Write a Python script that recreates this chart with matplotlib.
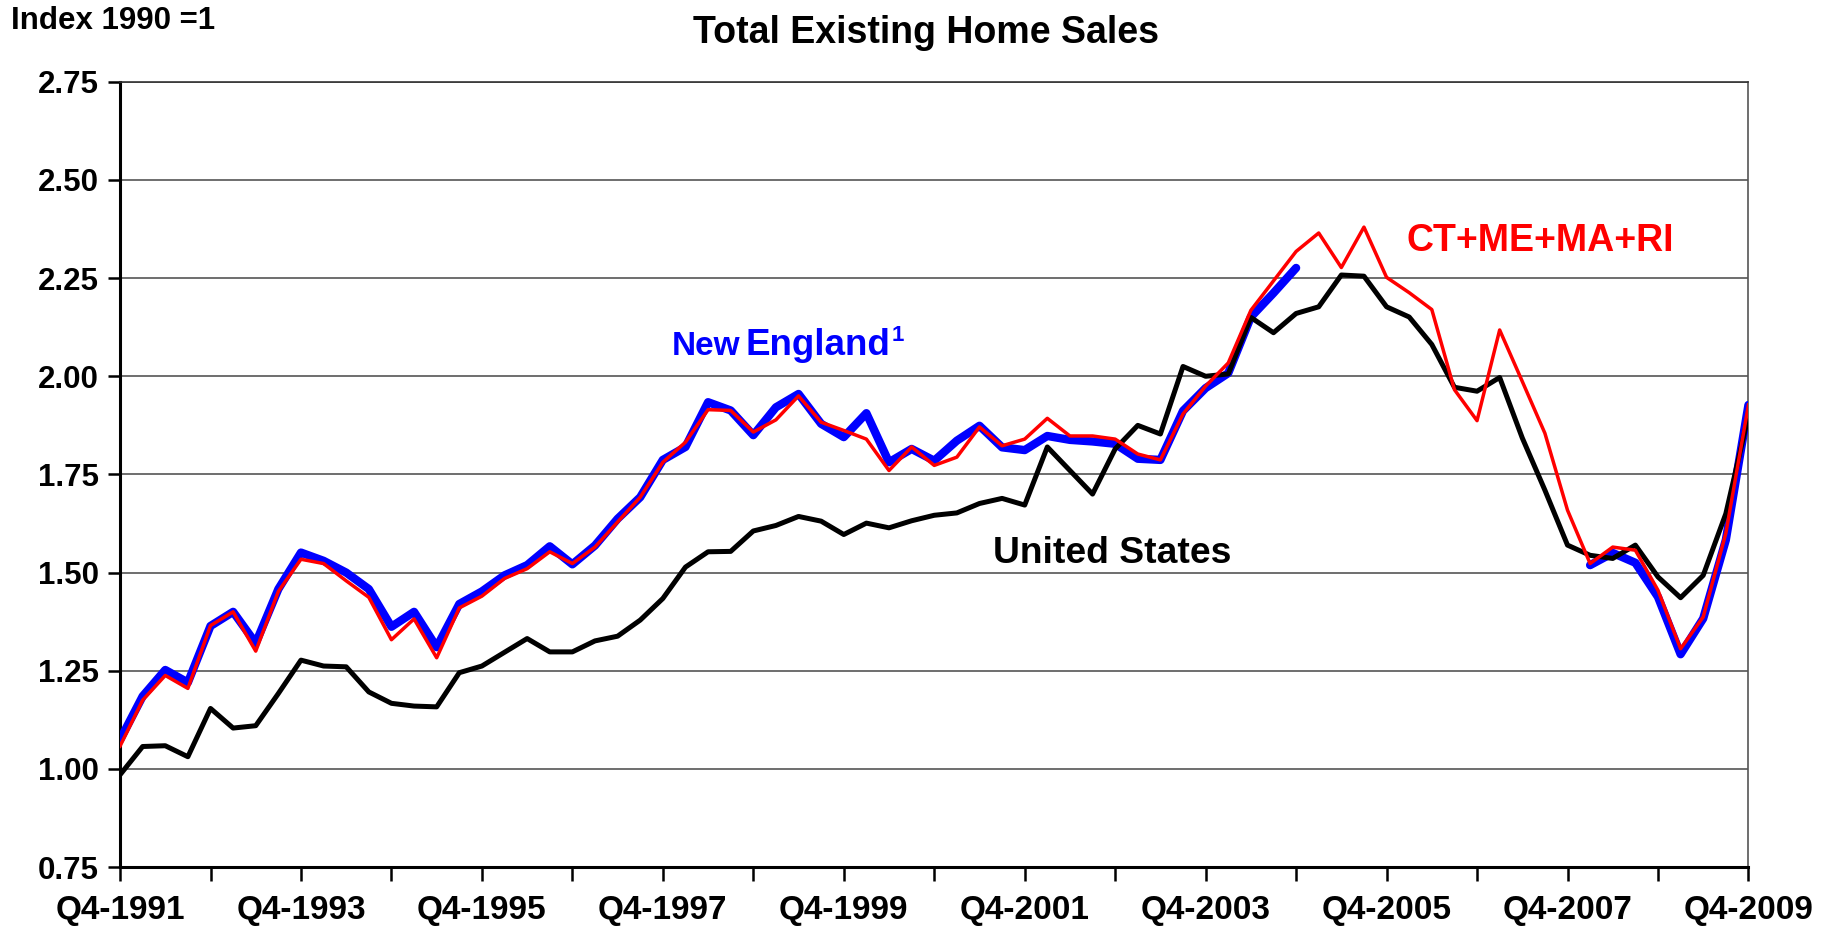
import numpy as np
import matplotlib.pyplot as plt

plt.rcParams['font.family'] = ['Liberation Sans', 'DejaVu Sans']
plt.rcParams['font.weight'] = 'bold'

# quarterly index values, Q4-1991 .. Q4-2009 (1990 = 1)
united_states = [
    0.985, 1.057, 1.059, 1.031, 1.154, 1.104, 1.110, 1.192, 1.277, 1.262,
    1.260, 1.196, 1.167, 1.160, 1.158, 1.245, 1.262, 1.297, 1.332, 1.298,
    1.298, 1.326, 1.338, 1.379, 1.434, 1.514, 1.553, 1.554, 1.606, 1.620,
    1.643, 1.631, 1.597, 1.626, 1.614, 1.632, 1.646, 1.652, 1.676, 1.689,
    1.672, 1.820, 1.760, 1.700, 1.815, 1.875, 1.853, 2.025, 2.000, 2.006,
    2.150, 2.111, 2.160, 2.177, 2.258, 2.255, 2.177, 2.151, 2.081, 1.972,
    1.962, 1.997, 1.843, 1.710, 1.570, 1.544, 1.536, 1.570, 1.489, 1.436,
    1.493, 1.650, 1.900,
]
ct_me_ma_ri = [
    1.058, 1.175, 1.238, 1.205, 1.365, 1.400, 1.300, 1.452, 1.534, 1.523,
    1.479, 1.437, 1.329, 1.382, 1.283, 1.410, 1.440, 1.485, 1.510, 1.553,
    1.523, 1.565, 1.629, 1.692, 1.781, 1.832, 1.915, 1.913, 1.858, 1.889,
    1.950, 1.883, 1.862, 1.840, 1.760, 1.820, 1.773, 1.794, 1.871, 1.823,
    1.840, 1.893, 1.848, 1.848, 1.840, 1.802, 1.787, 1.904, 1.975, 2.034,
    2.168, 2.243, 2.318, 2.365, 2.277, 2.380, 2.252, 2.213, 2.170, 1.966,
    1.887, 2.118, 1.987, 1.855, 1.659, 1.523, 1.565, 1.557, 1.455, 1.306,
    1.387, 1.600, 1.927,
]
new_england = [
    1.074, 1.185, 1.252, 1.220, 1.364, 1.400, 1.320, 1.458, 1.551, 1.530,
    1.500, 1.458, 1.362, 1.400, 1.310, 1.420, 1.452, 1.493, 1.519, 1.567,
    1.521, 1.569, 1.637, 1.692, 1.787, 1.820, 1.934, 1.913, 1.850, 1.921,
    1.955, 1.879, 1.845, 1.906, 1.781, 1.815, 1.785, 1.836, 1.874, 1.819,
    1.812, 1.848, 1.838, 1.834, 1.828, 1.790, 1.787, 1.912, 1.970, 2.008,
    2.151, 2.212, 2.276, np.nan, np.nan, np.nan, np.nan, np.nan, np.nan, np.nan,
    np.nan, np.nan, np.nan, np.nan, np.nan, 1.519, 1.550, 1.525, 1.438, 1.292,
    1.383, 1.583, 1.927,
]
tick_labels = ["Q4-1991", "Q4-1993", "Q4-1995", "Q4-1997", "Q4-1999",
               "Q4-2001", "Q4-2003", "Q4-2005", "Q4-2007", "Q4-2009"]
y_ticks = [0.75, 1.00, 1.25, 1.50, 1.75, 2.00, 2.25, 2.50, 2.75]

x = np.arange(len(united_states))

fig = plt.figure(figsize=(18.27, 9.30), dpi=100)
ax = fig.add_axes([0.0657, 0.0677, 0.8913, 0.8443])

ax.plot(x, new_england, color='#0000ff', lw=6.0, solid_capstyle='round', zorder=3)
ax.plot(x, united_states, color='black', lw=3.6, zorder=4)
ax.plot(x, ct_me_ma_ri, color='#ff0000', lw=2.5, zorder=5)

ax.set_xlim(0, len(x) - 1)
ax.set_ylim(0.75, 2.75)
ax.set_yticks(y_ticks)
ax.set_yticklabels([f"{v:.2f}" for v in y_ticks])
ax.set_xticks(np.arange(0, len(x), 4), minor=True)
ax.set_xticks(np.arange(0, len(x), 8))
ax.set_xticklabels(tick_labels)
ax.tick_params(axis='both', which='both', direction='out', width=1.8, color='black')
ax.tick_params(axis='y', length=9, labelsize=22.5, pad=6)
ax.tick_params(axis='x', which='both', length=10, labelsize=24, pad=10)

ax.grid(axis='y', color='#555555', lw=1.2)
ax.set_axisbelow(True)
for side in ['left', 'bottom']:
    ax.spines[side].set_linewidth(2.2)
    ax.spines[side].set_color('black')
ax.spines['top'].set_linewidth(1.2)
ax.spines['top'].set_color('#333333')
ax.spines['right'].set_linewidth(1.2)
ax.spines['right'].set_color('#555555')

fig.text(0.507, 0.964, "Total Existing Home Sales", ha='center', va='center', fontsize=27)
fig.text(0.006, 0.977, "Index 1990 =1", ha='left', va='center', fontsize=22.5)

# series labels; the "England" word is larger than "New", with a superscript 1
fig.text(0.3676, 0.618, "New", color='#0000ff', fontsize=24, ha='left', va='baseline')
eng = fig.text(0.408, 0.618, "England", color='#0000ff', fontsize=26.5,
               ha='left', va='baseline')
fig.canvas.draw()
eng_right = eng.get_window_extent().x1 / fig.bbox.width
fig.text(eng_right + 0.001, 0.633, "1", color='#0000ff', fontsize=16,
         ha='left', va='baseline')
fig.text(0.6085, 0.405, "United States", color='black', fontsize=26.8, ha='center', va='center')
fig.text(0.843, 0.741, "CT+ME+MA+RI", color='#ff0000', fontsize=27, ha='center', va='center')

fig.savefig("out.png", dpi=100)
